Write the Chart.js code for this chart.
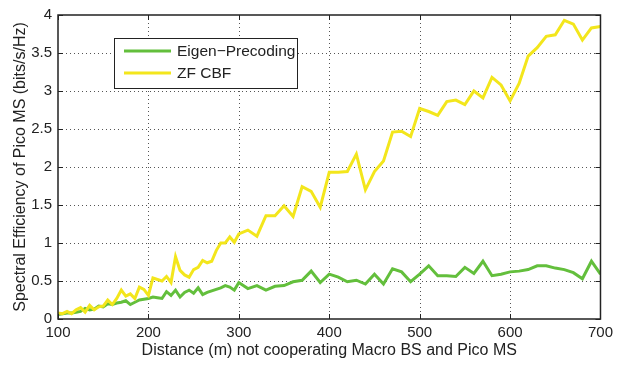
<!DOCTYPE html>
<html>
<head>
<meta charset="utf-8">
<script src="https://cdn.jsdelivr.net/npm/chart.js@4/dist/chart.umd.min.js"></script>
<style>
html,body{margin:0;padding:0;background:#fff}
canvas{display:block}
</style>
</head>
<body>
<canvas id="chart" width="618" height="366"></canvas>
<script>
// distance between the non-cooperating macro BS and the pico MS (m)
const distance = [
  100,105,110,115,120,125,130,135,140,145,150,155,160,165,170,175,180,185,190,195,
  200,205,210,215,220,225,230,235,240,245,250,255,260,265,270,275,280,285,290,295,
  300,310,320,330,340,350,360,370,380,390,400,410,420,430,440,450,460,470,480,490,
  500,510,520,530,540,550,560,570,580,590,600,610,620,630,640,650,660,670,680,690,700
]

const eigenPrecoding = [
  0.06,0.07,0.08,0.08,0.09,0.10,0.14,0.12,0.13,0.17,0.16,0.20,0.19,0.21,0.22,0.24,0.19,0.22,0.25,0.26,
  0.27,0.29,0.28,0.27,0.36,0.31,0.38,0.29,0.35,0.38,0.34,0.41,0.32,0.35,0.37,0.39,0.41,0.44,0.42,0.38,
  0.48,0.40,0.44,0.38,0.43,0.44,0.49,0.51,0.63,0.48,0.59,0.55,0.49,0.51,0.46,0.59,0.46,0.66,0.62,0.49,
  0.59,0.70,0.57,0.57,0.56,0.68,0.60,0.76,0.57,0.59,0.62,0.63,0.65,0.70,0.70,0.67,0.65,0.61,0.53,0.76,0.59
]

const zfCbf = [
  0.08,0.07,0.10,0.07,0.12,0.15,0.09,0.18,0.12,0.16,0.17,0.25,0.19,0.27,0.38,0.30,0.33,0.27,0.42,0.39,
  0.31,0.54,0.52,0.50,0.56,0.48,0.82,0.64,0.58,0.55,0.65,0.68,0.77,0.74,0.76,0.90,1.00,1.00,1.08,1.01,
  1.12,1.17,1.09,1.36,1.36,1.49,1.35,1.74,1.68,1.47,1.93,1.93,1.94,2.17,1.70,1.94,2.08,2.46,2.47,2.40,
  2.77,2.73,2.68,2.86,2.88,2.82,3.00,2.91,3.18,3.08,2.87,3.10,3.46,3.57,3.72,3.74,3.93,3.88,3.67,3.83,3.85
]

const xTicks = [100, 200, 300, 400, 500, 600, 700]
const yTicks = [0, 0.5, 1, 1.5, 2, 2.5, 3, 3.5, 4]

const FONT = "'Liberation Sans', Arial, Helvetica, sans-serif"
const INK = "#222"

const pts = ys => distance.map((d, i) => ({x: d, y: ys[i]}))

// matlab style frame: dotted grid, box, inward ticks, legend box
const frame = {
  id: "frame",
  beforeDatasetsDraw(chart){
    const {ctx, chartArea: a, scales: {x, y}} = chart
    ctx.save()
    ctx.strokeStyle = "#555"
    ctx.lineWidth = 1
    ctx.setLineDash([1, 3])
    ctx.beginPath()
    xTicks.forEach(v => {
      const px = Math.round(x.getPixelForValue(v)) + 0.5
      if (px > a.left + 1 && px < a.right - 1){ ctx.moveTo(px, a.top); ctx.lineTo(px, a.bottom) }
    })
    yTicks.forEach(v => {
      const py = Math.round(y.getPixelForValue(v)) + 0.5
      if (py > a.top + 1 && py < a.bottom - 1){ ctx.moveTo(a.left, py); ctx.lineTo(a.right, py) }
    })
    ctx.stroke()
    ctx.restore()
  },
  afterDatasetsDraw(chart){
    const {ctx, chartArea: a, scales: {x, y}} = chart
    ctx.save()
    ctx.strokeStyle = INK
    ctx.lineWidth = 1.5
    ctx.strokeRect(a.left, a.top, a.right - a.left, a.bottom - a.top)
    ctx.lineWidth = 1
    ctx.beginPath()
    const t = 5
    xTicks.forEach(v => {
      const px = Math.round(x.getPixelForValue(v)) + 0.5
      ctx.moveTo(px, a.bottom); ctx.lineTo(px, a.bottom - t)
      ctx.moveTo(px, a.top); ctx.lineTo(px, a.top + t)
    })
    yTicks.forEach(v => {
      const py = Math.round(y.getPixelForValue(v)) + 0.5
      ctx.moveTo(a.left, py); ctx.lineTo(a.left + t, py)
      ctx.moveTo(a.right, py); ctx.lineTo(a.right - t, py)
    })
    ctx.stroke()

    // legend
    const lx = 114, ly = 38, lw = 183, lh = 50
    ctx.fillStyle = "#fff"
    ctx.fillRect(lx, ly, lw, lh)
    ctx.strokeStyle = INK
    ctx.lineWidth = 1
    ctx.strokeRect(lx + 0.5, ly + 0.5, lw, lh)
    ctx.font = "15.5px " + FONT
    ctx.textBaseline = "middle"
    chart.data.datasets.forEach((ds, i) => {
      const ry = ly + 13 + i * 22
      ctx.strokeStyle = ds.borderColor
      ctx.lineWidth = 3
      ctx.beginPath()
      ctx.moveTo(lx + 10, ry); ctx.lineTo(lx + 57, ry)
      ctx.stroke()
      ctx.fillStyle = INK
      ctx.fillText(ds.label, lx + 63, ry + 1)
    })
    ctx.restore()
  }
}

new Chart(document.getElementById("chart"), {
  type: "line",
  data: {
    datasets: [
      {label: "Eigen\u2212Precoding", data: pts(eigenPrecoding), borderColor: "#63bf3c", order: 1},
      {label: "ZF CBF", data: pts(zfCbf), borderColor: "#f3e61c", order: 0}
    ]
  },
  options: {
    responsive: false,
    animation: false,
    devicePixelRatio: 1,
    layout: {padding: {top: 7, right: 15, left: 0, bottom: 0}},
    elements: {
      line: {borderWidth: 3, tension: 0, borderJoinStyle: "miter"},
      point: {radius: 0}
    },
    plugins: {legend: {display: false}, tooltip: {enabled: false}},
    scales: {
      x: {
        type: "linear", min: 100, max: 700,
        afterBuildTicks: s => { s.ticks = xTicks.map(v => ({value: v})) },
        afterFit: s => { s.height = 47 },
        grid: {display: false, drawTicks: false},
        border: {display: false},
        ticks: {color: INK, font: {family: FONT, size: 15}, padding: 5, maxRotation: 0},
        title: {display: true, text: "Distance (m) not cooperating Macro BS and Pico MS",
          color: INK, font: {family: FONT, size: 16}, padding: {top: 0, bottom: 6}}
      },
      y: {
        min: 0, max: 4,
        afterBuildTicks: s => { s.ticks = yTicks.map(v => ({value: v})) },
        afterFit: s => { s.width = 58 },
        grid: {display: false, drawTicks: false},
        border: {display: false},
        ticks: {color: INK, font: {family: FONT, size: 15}, padding: 6, callback: v => String(v)},
        title: {display: true, text: "Spectral Efficiency of Pico MS (bits/s/Hz)",
          color: INK, font: {family: FONT, size: 16}, padding: {top: 11, bottom: 0}}
      }
    }
  },
  plugins: [frame]
})
</script>
</body>
</html>
